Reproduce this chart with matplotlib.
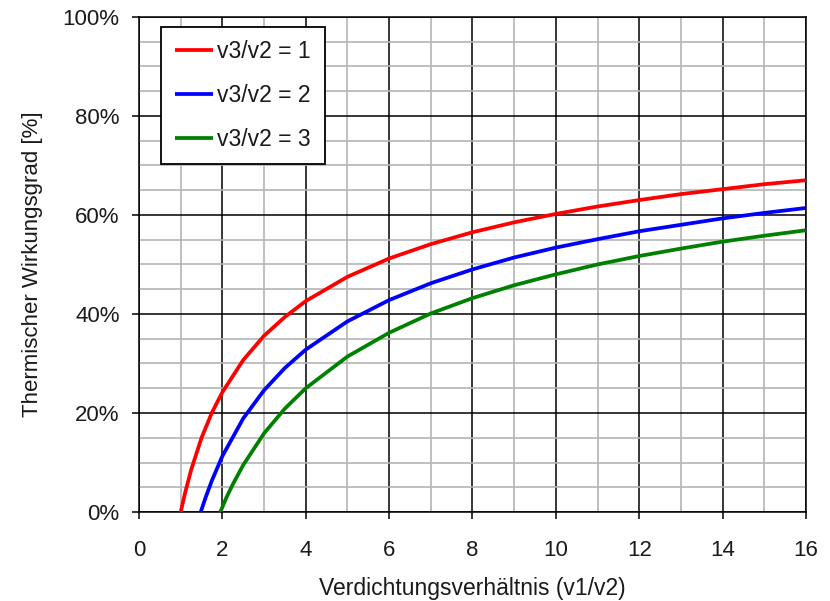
import matplotlib
matplotlib.use("Agg")
import matplotlib.pyplot as plt
from matplotlib.ticker import MultipleLocator, FuncFormatter

plt.rcParams['font.family'] = ['Liberation Sans', 'DejaVu Sans']

# Verdichtungsverhältnis (v1/v2) and efficiency [%] for each v3/v2 ratio
x_r1 = [1, 1.1, 1.25, 1.5, 1.75, 2, 2.5, 3, 3.5, 4, 5, 6, 7, 8, 9, 10, 11, 12, 13, 14, 15, 16]
eta_r1 = [0, 3.7, 8.5, 15.0, 20.1, 24.2, 30.7, 35.6, 39.4, 42.6, 47.5, 51.2, 54.1, 56.5,
          58.5, 60.2, 61.7, 63.0, 64.2, 65.2, 66.2, 67.0]

x_r2 = [1.48, 1.6, 1.75, 2, 2.5, 3, 3.5, 4, 5, 6, 7, 8, 9, 10, 11, 12, 13, 14, 15, 16]
eta_r2 = [0, 3.0, 6.4, 11.3, 18.9, 24.6, 29.1, 32.8, 38.5, 42.8, 46.2, 49.0, 51.4, 53.4,
          55.1, 56.7, 58.0, 59.3, 60.4, 61.4]

x_r3 = [1.95, 2.1, 2.25, 2.5, 3, 3.5, 4, 5, 6, 7, 8, 9, 10, 11, 12, 13, 14, 15, 16]
eta_r3 = [0, 3.0, 5.6, 9.5, 15.9, 20.9, 25.0, 31.4, 36.2, 40.1, 43.2, 45.8, 48.0, 50.0,
          51.7, 53.2, 54.6, 55.8, 56.9]

labels = ['v3/v2 = 1', 'v3/v2 = 2', 'v3/v2 = 3']
colors = ['#ff0000', '#0000ff', '#008000']
text_col = '#1a1a1a'

fig = plt.figure(figsize=(8.3, 6.01), dpi=100)
ax = fig.add_axes([0.1675, 0.148, 0.8035, 0.824])

for xs, ys, lab, col in zip([x_r1, x_r2, x_r3], [eta_r1, eta_r2, eta_r3], labels, colors):
    ax.plot(xs, ys, color=col, lw=2.7, label=lab, zorder=3, solid_capstyle='butt')

ax.set_xlim(0, 16)
ax.set_ylim(0, 100)
ax.xaxis.set_major_locator(MultipleLocator(2))
ax.xaxis.set_minor_locator(MultipleLocator(1))
ax.yaxis.set_major_locator(MultipleLocator(20))
ax.yaxis.set_minor_locator(MultipleLocator(5))
ax.yaxis.set_major_formatter(FuncFormatter(lambda v, p: f"{v:.0f}%"))

ax.grid(which='minor', color='#b4b4b4', lw=1.2, zorder=1)
ax.grid(which='major', color='black', lw=1.1, zorder=2)
ax.tick_params(which='major', direction='out', length=5, width=1.1, labelsize=16,
               colors='black', labelcolor=text_col)
ax.tick_params(axis='x', pad=15)
ax.tick_params(axis='y', pad=9)
ax.tick_params(which='minor', length=0)
for s in ax.spines.values():
    s.set_linewidth(1.1)

ax.set_xlabel('Verdichtungsverhältnis (v1/v2)', fontsize=16.5, color=text_col, labelpad=12)
ax.set_ylabel('Thermischer Wirkungsgrad [%]', fontsize=16, color=text_col, labelpad=14)

leg = ax.legend(loc='upper left', bbox_to_anchor=(0.033, 0.98), borderaxespad=0,
                fontsize=16.5, fancybox=False, framealpha=1, edgecolor='black',
                handlelength=1.65, handletextpad=0.2, labelspacing=0.9, borderpad=0.6)
leg.get_frame().set_linewidth(1.3)
for t in leg.get_texts():
    t.set_color(text_col)

fig.savefig('out.png', dpi=100)
